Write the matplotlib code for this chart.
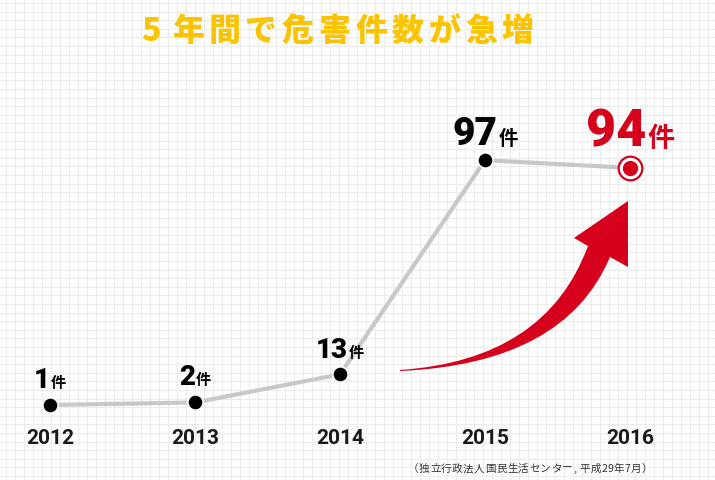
import numpy as np
import matplotlib
matplotlib.use('Agg')
import matplotlib.pyplot as plt
from matplotlib.path import Path
from matplotlib.patches import PathPatch
from matplotlib.transforms import offset_copy, blended_transform_factory

plt.rcParams['font.family'] = ['Roboto', 'Noto Sans CJK JP', 'DejaVu Sans']

# data
years = [2012, 2013, 2014, 2015, 2016]
counts = [1, 2, 13, 97, 94]
unit = '件'
title = '5年間で危害件数が急増'
source = '（独立行政法人国民生活センター,平成29年7月）'

W, H = 715, 481
RED = '#d6001c'
YELLOW = '#fcc400'

fig = plt.figure(figsize=(W / 100, H / 100), dpi=100)
fig.patch.set_facecolor('white')

# background in pixel coords (y down)
bg = fig.add_axes([0, 0, 1, 1])
bg.set_xlim(0, W)
bg.set_ylim(H, 0)
bg.axis('off')
for gx in np.arange(6, W, 9):
    bg.axvline(gx, color='#ececec', lw=0.8, zorder=0)
for gy in np.arange(4, H, 8.6):
    bg.axhline(gy, color='#ececec', lw=0.8, zorder=0)

# curved red arrow
verts = [(400, 371), (546, 361), (588, 247), (574, 239), (628, 202),
         (628, 268), (610, 258), (565, 365), (400, 372), (400, 371)]
codes = [Path.MOVETO, Path.CURVE3, Path.CURVE3, Path.LINETO, Path.LINETO,
         Path.LINETO, Path.LINETO, Path.CURVE3, Path.CURVE3, Path.CLOSEPOLY]
bg.add_patch(PathPatch(Path(verts, codes), facecolor=RED, edgecolor='none', zorder=1))

# title, letter spaced
for i, ch in enumerate(title):
    bg.text(151 + i * 36.7, 31, ch, fontsize=23, color=YELLOW, fontweight='black',
            family=['Noto Sans CJK JP'], ha='center', va='center', zorder=3)

# source line, letter spaced
src_x = 408
for ch in source:
    bg.text(src_x, 469, ch, fontsize=7.6, color='#333333', family=['Noto Sans CJK JP'],
            ha='left', va='center', zorder=3)
    src_x += (11.0 if ord(ch) > 0x2000 else 6.2)

# data axes: year 2012 -> px 50, step 145 px ; value 1 -> 75 px from bottom, 2.55 px/unit
ax = fig.add_axes([0, 0, 1, 1], facecolor='none')
step, ppu = 145.0, 2.55
ax.set_xlim(2012 - 50 / step, 2012 + (W - 50) / step)
ax.set_ylim(1 - 75 / ppu, 1 - 75 / ppu + H / ppu)
ax.axis('off')

ax.plot(years, counts, color='#c8c8c8', lw=3, zorder=2, solid_capstyle='butt')
ax.plot(years[:-1], counts[:-1], 'o', ms=11, mfc='black', mec='white', mew=1.2, zorder=3)
ax.plot(years[-1], counts[-1], 'o', ms=17, mfc='white', mec=RED, mew=1.6, zorder=3)
ax.plot(years[-1], counts[-1], 'o', ms=11, mfc=RED, mec='none', zorder=4)

# year labels
tr = blended_transform_factory(ax.transData, ax.transAxes)
for yr in years:
    ax.text(yr, (H - 439) / H, str(yr), transform=tr, fontsize=15, fontweight='bold',
            color='#1a1a1a', ha='center', va='center')

# value labels
num_size = [20, 20, 20, 28, 37.5]
unit_size = [11, 11, 11, 14, 19.5]
lift = [18, 18, 17, 16, 22]
colors = ['black', 'black', 'black', 'black', RED]
fig.canvas.draw()
renderer = fig.canvas.get_renderer()
for i, (yr, v) in enumerate(zip(years, counts)):
    tn = ax.text(yr, v, str(v), fontsize=num_size[i], fontweight='heavy', color=colors[i],
                 ha='left', va='baseline', zorder=5)
    tu = ax.text(yr, v, unit, fontsize=unit_size[i], fontweight='bold', color=colors[i],
                 family=['Noto Sans CJK JP'], ha='left', va='baseline', zorder=5)
    wn = tn.get_window_extent(renderer).width
    wu = tu.get_window_extent(renderer).width
    gap = 1
    x0 = -(wn + gap + wu) / 2
    tn.set_transform(offset_copy(ax.transData, fig=fig, x=x0, y=lift[i], units='dots'))
    tu.set_transform(offset_copy(ax.transData, fig=fig, x=x0 + wn + gap, y=lift[i], units='dots'))

fig.savefig('out.png', dpi=100)
